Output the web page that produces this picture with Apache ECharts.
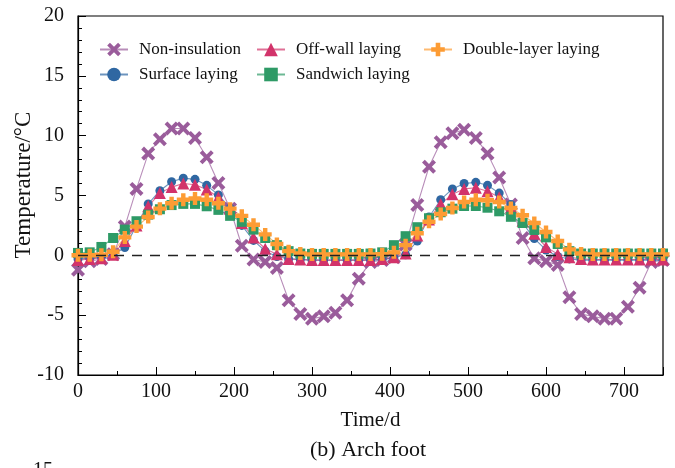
<!DOCTYPE html>
<html>
<head>
<meta charset="utf-8">
<script src="https://cdn.jsdelivr.net/npm/echarts@6/dist/echarts.min.js"></script>
<style>
  html, body { margin: 0; padding: 0; background: #ffffff; }
  #chart { width: 675px; height: 468px; }
</style>
</head>
<body>
<div id="chart"></div>
<script>
// Sampling days (every 15 d over two annual cycles)
const days = [0, 15, 30, 45, 60, 75, 90, 105, 120, 135,
              150, 165, 180, 195, 210, 225, 240, 255, 270, 285,
              300, 315, 330, 345, 360, 375, 390, 405, 420, 435,
              450, 465, 480, 495, 510, 525, 540, 555, 570, 585,
              600, 615, 630, 645, 660, 675, 690, 705, 720, 735,
              750];

// Temperature at the arch foot (°C) for each insulation scheme
const nonInsulation = [-1.2, -0.5, -0.3, 0.1, 2.4, 5.55, 8.5, 9.7, 10.6, 10.6,
                       9.8, 8.2, 6.05, 3.9, 0.8, -0.35, -0.55, -1.05, -3.75, -4.9,
                       -5.3, -5.1, -4.8, -3.75, -1.95, -0.55, -0.4, -0.15, 0.9, 4.2,
                       7.4, 9.45, 10.2, 10.5, 9.8, 8.5, 6.5, 4.25, 1.45, -0.25,
                       -0.5, -0.8, -3.5, -4.9, -5.1, -5.3, -5.3, -4.3, -2.7, -0.55,
                       -0.4];
const surfaceLaying = [-0.3, -0.2, -0.15, 0.05, 0.65, 2.5, 4.3, 5.4, 6.15, 6.45,
                       6.35, 5.85, 5.05, 3.95, 2.5, 1.25, 0.35, -0.1, -0.3, -0.35,
                       -0.4, -0.4, -0.4, -0.4, -0.4, -0.4, -0.35, -0.2, 0.05, 1.2,
                       3.2, 4.65, 5.55, 6.0, 6.1, 5.85, 5.2, 4.25, 2.7, 1.4,
                       0.45, -0.1, -0.3, -0.4, -0.4, -0.4, -0.4, -0.4, -0.4, -0.4,
                       -0.4];
const offWallLaying = [-0.4, -0.3, -0.25, 0.05, 1.2, 2.5, 4.1, 5.2, 5.7, 6.0,
                       5.9, 5.5, 4.85, 3.9, 2.7, 1.5, 0.55, 0.1, -0.3, -0.35,
                       -0.4, -0.4, -0.4, -0.4, -0.4, -0.4, -0.3, -0.15, 0.15, 1.65,
                       3.0, 4.3, 5.1, 5.55, 5.65, 5.35, 4.85, 4.0, 2.9, 1.8,
                       0.7, 0.1, -0.15, -0.3, -0.35, -0.35, -0.35, -0.35, -0.35, -0.35,
                       -0.35];
const sandwichLaying = [0.2, 0.25, 0.7, 1.45, 2.15, 2.85, 3.4, 3.85, 4.2, 4.3,
                        4.3, 4.1, 3.8, 3.3, 2.8, 2.15, 1.45, 0.85, 0.35, 0.15,
                        0.12, 0.12, 0.12, 0.12, 0.12, 0.15, 0.25, 0.85, 1.6, 2.35,
                        3.1, 3.6, 3.9, 4.12, 4.12, 3.98, 3.68, 3.22, 2.7, 2.12,
                        1.5, 0.95, 0.35, 0.15, 0.15, 0.15, 0.15, 0.15, 0.15, 0.15,
                        0.15];
const doubleLayerLaying = [0.0, 0.0, 0.05, 0.3, 1.5, 2.4, 3.2, 3.9, 4.35, 4.65,
                           4.75, 4.65, 4.35, 3.9, 3.3, 2.55, 1.75, 0.95, 0.35, 0.15,
                           0.08, 0.08, 0.08, 0.08, 0.08, 0.08, 0.1, 0.25, 0.85, 1.85,
                           2.8, 3.45, 3.95, 4.45, 4.65, 4.6, 4.45, 3.95, 3.35, 2.7,
                           1.95, 1.2, 0.5, 0.15, 0.08, 0.08, 0.08, 0.08, 0.08, 0.08,
                           0.08];

const seriesNames = ['Non-insulation', 'Surface laying', 'Off-wall laying', 'Sandwich laying', 'Double-layer laying'];

// Tick settings
const xTickStep = 100;
const xMinorStep = 50;
const yTickStep = 5;

const FONT = '"Liberation Serif", "Times New Roman", serif';

const crossSymbol = 'path://M0,2 L2,0 L5,3 L8,0 L10,2 L7,5 L10,8 L8,10 L5,7 L2,10 L0,8 L3,5 Z';
const plusSymbol = 'path://M3.3,0 H6.7 V3.3 H10 V6.7 H6.7 V10 H3.3 V6.7 H0 V3.3 H3.3 Z';

function pairs(values) {
  return days.map((d, i) => [d, values[i]]);
}

function lineSeries(name, values, color, symbol, size, extra) {
  return Object.assign({
    name: name,
    type: 'line',
    data: pairs(values),
    symbol: symbol,
    symbolSize: size,
    showSymbol: true,
    itemStyle: { color: color, opacity: 1 },
    lineStyle: { color: color, width: 1.1, opacity: 0.7 },
    emphasis: { disabled: true },
    animation: false
  }, extra || {});
}

const legendBase = {
  orient: 'vertical',
  top: 36,
  itemGap: 8,
  itemWidth: 28,
  itemHeight: 17,
  selectedMode: false,
  textStyle: { fontFamily: FONT, fontSize: 17, color: '#111', padding: [0, 0, 0, 6] }
};

const option = {
  backgroundColor: '#ffffff',
  animation: false,
  grid: {
    left: 78, right: 12, top: 16, bottom: 93,
    show: true, borderColor: '#000', borderWidth: 1.2,
    backgroundColor: 'transparent'
  },
  legend: [
    Object.assign({}, legendBase, { left: 94, data: [seriesNames[0], seriesNames[1]] }),
    Object.assign({}, legendBase, { left: 251, data: [seriesNames[2], seriesNames[3]] }),
    Object.assign({}, legendBase, { left: 418, data: [seriesNames[4]] })
  ],
  xAxis: [
    {
      type: 'value', min: 0, max: 750, interval: xTickStep,
      name: 'Time/d', nameLocation: 'middle', nameGap: 35,
      nameTextStyle: { fontFamily: FONT, fontSize: 21, color: '#111' },
      axisLine: { show: true, onZero: false, lineStyle: { color: '#000', width: 1.2 } },
      axisTick: { show: true, inside: true, length: 8, lineStyle: { color: '#000', width: 1 } },
      axisLabel: {
        fontFamily: FONT, fontSize: 20, color: '#111', margin: 7,
        formatter: v => (v > 700 ? '' : String(v))
      },
      splitLine: { show: false }
    },
    {
      type: 'value', min: 0, max: 750, interval: xMinorStep, position: 'bottom',
      axisLine: { show: false, onZero: false },
      axisTick: { show: true, inside: true, length: 4, lineStyle: { color: '#000', width: 1 } },
      axisLabel: { show: false },
      splitLine: { show: false }
    }
  ],
  yAxis: {
    type: 'value', min: -10, max: 20, interval: yTickStep,
    axisLine: { show: true, onZero: false, lineStyle: { color: '#000', width: 1.2 } },
    axisTick: { show: true, inside: true, length: 8, lineStyle: { color: '#000', width: 1 } },
    minorTick: { show: true, splitNumber: 5, length: 4, lineStyle: { color: '#000', width: 1 } },
    axisLabel: { fontFamily: FONT, fontSize: 20, color: '#111', margin: 14 },
    splitLine: { show: false },
    minorSplitLine: { show: false }
  },
  graphic: [
    {
      type: 'text', x: 24, y: 185, rotation: Math.PI / 2,
      style: {
        text: 'Temperature/°C', font: '23px "Liberation Serif", serif', fill: '#111',
        align: 'center', verticalAlign: 'middle'
      }
    },
    {
      type: 'text', left: 310, top: 439,
      style: { text: '(b) Arch foot', font: '22px "Liberation Serif", serif', fill: '#111' }
    },
    {
      type: 'text', left: 33, top: 461,
      style: { text: '15', font: '20px "Liberation Serif", serif', fill: '#111' }
    }
  ],
  series: [
    lineSeries(seriesNames[0], nonInsulation, '#9a5c9b', crossSymbol, 14, {
      markLine: {
        silent: true,
        symbol: ['none', 'none'],
        label: { show: false },
        lineStyle: { color: '#222', type: [10, 8], width: 1.3 },
        data: [{ yAxis: 0 }]
      }
    }),
    lineSeries(seriesNames[1], surfaceLaying, '#2f67a2', 'circle', 9),
    lineSeries(seriesNames[2], offWallLaying, '#d2336a', 'triangle', 12),
    lineSeries(seriesNames[3], sandwichLaying, '#2e9a66', 'rect', 10),
    lineSeries(seriesNames[4], doubleLayerLaying, '#fd9c34', plusSymbol, 13)
  ]
};

const chart = echarts.init(document.getElementById('chart'), null, { renderer: 'canvas' });
chart.setOption(option);
</script>
</body>
</html>
